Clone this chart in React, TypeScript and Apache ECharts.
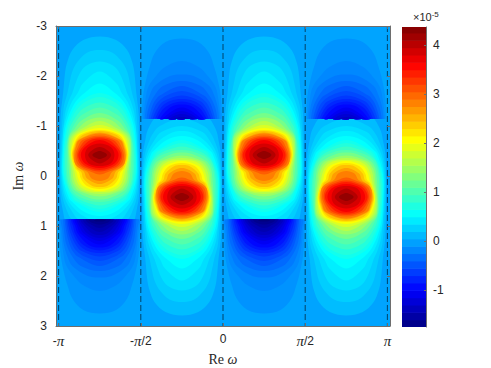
import React, { useEffect, useRef } from "react";
import * as echarts from "echarts";

const PI = Math.PI;
const X_TICK_VALUES = [-PI, -PI / 2, 0, PI / 2, PI];
const X_TICK_LABELS = ["-{p|π}", "-{p|π}/2", "0", "{p|π}/2", "{p|π}"];
const Y_TICK_VALUES = [-3, -2, -1, 0, 1, 2, 3];
const CB_TICK_VALUES = [-1, 0, 1, 2, 3, 4];
const CB_LEVELS = [-1.75, -1.6, -1.45, -1.3, -1.15, -1, -0.85, -0.7, -0.55, -0.4, -0.25, -0.1, 0.05, 0.2, 0.35, 0.5, 0.65, 0.8, 0.95, 1.1, 1.25, 1.4, 1.55, 1.7, 1.85, 2, 2.15, 2.3, 2.45, 2.6, 2.75, 2.9, 3.05, 3.2, 3.35, 3.5, 3.65, 3.8, 3.95, 4.1, 4.25, 4.37];
const V_MIN = -1.75;
const V_MAX = 4.37;

// Contours of the field in one period cell.
// Each outline: [fraction of half cell width, Im w], top to bottom of the right half.
const POS_LEVELS = [0.1, 0.2, 0.3, 0.4, 0.5, 0.6, 0.7, 0.85, 1, 1.2, 1.4, 1.6, 1.8, 2, 2.2, 2.4, 2.6, 2.8, 3, 3.2, 3.4, 3.6, 3.8, 4, 4.2];
const POS_OUTLINES = [
  [[0, -2.79], [0.4, -2.72], [0.667, -2.52], [0.786, -2.29], [0.84, -2.09], [0.89, -1.66], [0.95, -1.22], [0.97, -0.42], [0.97, 0.05], [0.95, 0.44], [0.89, 0.72], [0.85, 0.88], [0.785, 1], [0.667, 1.15], [0.37, 1.3], [0, 1.38]],
  [[0, -2.52], [0.3, -2.47], [0.535, -2.29], [0.667, -2.09], [0.738, -1.85], [0.786, -1.66], [0.88, -1.35], [0.955, -0.42], [0.955, 0.05], [0.9, 0.44], [0.786, 0.72], [0.68, 0.88], [0.535, 1], [0, 1.15]],
  [[0, -2.29], [0.3, -2.22], [0.46, -2.09], [0.59, -1.85], [0.667, -1.66], [0.755, -1.5], [0.85, -1.22], [0.93, -0.42], [0.93, 0.05], [0.85, 0.44], [0.667, 0.72], [0.5, 0.88], [0, 1]],
  [[0, -2.09], [0.41, -1.85], [0.535, -1.66], [0.667, -1.5], [0.75, -1.35], [0.8, -1.22], [0.88, -0.94], [0.91, -0.42], [0.91, 0.05], [0.8, 0.44], [0.535, 0.72], [0.2, 0.88], [0, 0.9]],
  [[0, -1.85], [0.37, -1.66], [0.57, -1.5], [0.68, -1.35], [0.75, -1.22], [0.845, -0.94], [0.9, -0.42], [0.89, 0.05], [0.75, 0.44], [0.667, 0.52], [0.37, 0.72], [0, 0.8]],
  [[0, -1.66], [0.46, -1.5], [0.615, -1.35], [0.695, -1.22], [0.815, -0.94], [0.88, -0.42], [0.87, 0.05], [0.695, 0.44], [0.59, 0.52], [0, 0.72]],
  [[0, -1.58], [0.32, -1.5], [0.535, -1.35], [0.64, -1.22], [0.785, -0.94], [0.87, -0.42], [0.845, 0.05], [0.64, 0.44], [0.506, 0.52], [0, 0.66]],
  [[0, -1.47], [0.4, -1.35], [0.55, -1.22], [0.645, -1.1], [0.74, -0.94], [0.84, -0.42], [0.81, 0.05], [0.72, 0.3], [0.55, 0.44], [0.353, 0.52], [0, 0.59]],
  [[0, -1.37], [0.44, -1.22], [0.57, -1.1], [0.68, -0.94], [0.78, -0.72], [0.8, -0.42], [0.78, 0.05], [0.667, 0.3], [0.44, 0.44], [0, 0.52]],
  [[0, -1.26], [0.46, -1.1], [0.615, -0.94], [0.72, -0.84], [0.76, -0.72], [0.77, -0.42], [0.73, 0.05], [0.68, 0.2], [0.59, 0.3], [0.25, 0.44], [0, 0.47]],
  [[0, -1.17], [0.32, -1.1], [0.535, -0.94], [0.675, -0.84], [0.745, -0.72], [0.75, -0.42], [0.7, -0.08], [0.69, 0.05], [0.62, 0.2], [0.506, 0.3], [0, 0.41]],
  [[0, -1.1], [0.45, -0.94], [0.62, -0.84], [0.71, -0.72], [0.73, -0.42], [0.66, -0.08], [0.64, 0.05], [0.56, 0.2], [0.41, 0.3], [0, 0.36]],
  [[0, -1.02], [0.34, -0.94], [0.565, -0.84], [0.667, -0.72], [0.7, -0.42], [0.615, -0.08], [0.58, 0.05], [0.49, 0.2], [0.287, 0.3], [0, 0.32]],
  [[0, -0.96], [0.506, -0.84], [0.62, -0.72], [0.695, -0.42], [0.565, -0.08], [0.525, 0.05], [0.41, 0.2], [0, 0.3]],
  [[0, -0.92], [0.44, -0.84], [0.58, -0.72], [0.68, -0.42], [0.6, -0.16], [0.506, -0.08], [0.46, 0.05], [0.31, 0.2], [0, 0.26]],
  [[0, -0.9], [0.36, -0.84], [0.55, -0.72], [0.62, -0.58], [0.66, -0.42], [0.56, -0.16], [0.45, -0.08], [0.4, 0.05], [0.18, 0.2], [0, 0.22]],
  [[0, -0.87], [0.52, -0.72], [0.6, -0.58], [0.64, -0.42], [0.6, -0.25], [0.5, -0.16], [0.38, -0.08], [0.31, 0.05], [0, 0.16]],
  [[0, -0.85], [0.5, -0.72], [0.58, -0.58], [0.62, -0.42], [0.6, -0.25], [0.5, -0.16], [0.3, -0.08], [0.2, 0.05], [0, 0.1]],
  [[0, -0.81], [0.42, -0.72], [0.53, -0.58], [0.59, -0.42], [0.55, -0.25], [0.42, -0.16], [0.2, -0.08], [0, -0.03]],
  [[0, -0.78], [0.33, -0.72], [0.48, -0.58], [0.55, -0.42], [0.49, -0.25], [0.34, -0.16], [0, -0.09]],
  [[0, -0.75], [0.22, -0.72], [0.42, -0.58], [0.52, -0.42], [0.43, -0.25], [0.24, -0.16], [0, -0.12]],
  [[0, -0.72], [0.36, -0.58], [0.46, -0.42], [0.36, -0.25], [0, -0.16]],
  [[0, -0.65], [0.27, -0.58], [0.36, -0.42], [0.27, -0.25], [0, -0.2]],
  [[0, -0.58], [0.28, -0.42], [0, -0.25]],
  [[0, -0.5], [0.18, -0.42], [0, -0.34]],
];
const NEG_LEVELS = [-0.05, -0.12, -0.2, -0.3, -0.4, -0.5, -0.6, -0.7, -0.8, -0.9, -1, -1.1, -1.2, -1.3, -1.4, -1.5, -1.6, -1.7];
const NEG_OUTLINES = [
  [[0, 0.5], [0.98, 0.6], [0.975, 1.15], [0.945, 1.61], [0.85, 2], [0.786, 2.18], [0.667, 2.45], [0.4, 2.68], [0, 2.75]],
  [[0, 0.5], [0.95, 0.6], [0.94, 1.15], [0.872, 1.61], [0.806, 1.8], [0.63, 2], [0.41, 2.18], [0, 2.3]],
  [[0, 0.5], [0.92, 0.6], [0.904, 1.15], [0.87, 1.38], [0.786, 1.61], [0.667, 1.8], [0.287, 2], [0, 2.03]],
  [[0, 0.5], [0.9, 0.6], [0.89, 0.88], [0.86, 1.15], [0.806, 1.38], [0.667, 1.61], [0.46, 1.8], [0, 1.9]],
  [[0, 0.5], [0.86, 0.6], [0.85, 0.88], [0.806, 1.15], [0.73, 1.38], [0.66, 1.5], [0.535, 1.61], [0, 1.8]],
  [[0, 0.5], [0.82, 0.6], [0.815, 0.88], [0.76, 1.15], [0.66, 1.38], [0.56, 1.5], [0.37, 1.61], [0, 1.7]],
  [[0, 0.5], [0.78, 0.6], [0.78, 0.88], [0.71, 1.15], [0.58, 1.38], [0.44, 1.5], [0, 1.61]],
  [[0, 0.5], [0.74, 0.6], [0.74, 0.88], [0.65, 1.15], [0.5, 1.38], [0.287, 1.5], [0, 1.54]],
  [[0, 0.5], [0.7, 0.6], [0.7, 0.88], [0.65, 1], [0.6, 1.15], [0.4, 1.38], [0, 1.49]],
  [[0, 0.5], [0.66, 0.6], [0.66, 0.88], [0.6, 1], [0.535, 1.15], [0.27, 1.38], [0, 1.43]],
  [[0, 0.5], [0.62, 0.6], [0.615, 0.88], [0.55, 1], [0.47, 1.15], [0, 1.37]],
  [[0, 0.5], [0.57, 0.6], [0.565, 0.88], [0.5, 1], [0.39, 1.15], [0, 1.3]],
  [[0, 0.5], [0.52, 0.6], [0.515, 0.88], [0.44, 1], [0.3, 1.15], [0, 1.24]],
  [[0, 0.5], [0.47, 0.6], [0.47, 0.88], [0.365, 1], [0.18, 1.15], [0, 1.18]],
  [[0, 0.5], [0.41, 0.6], [0.41, 0.88], [0.287, 1], [0, 1.12]],
  [[0, 0.5], [0.34, 0.6], [0.34, 0.88], [0.15, 1], [0, 1.04]],
  [[0, 0.5], [0.27, 0.6], [0.27, 0.88], [0, 0.97]],
  [[0, 0.5], [0.15, 0.6], [0.15, 0.88], [0, 0.91]],
];
// Jagged jump line of each cell type: Im w at evenly spread places across the cell.
const CUT_A = [0.875, 0.87, 0.865, 0.87, 0.86, 0.87, 0.865, 0.875, 0.86, 0.87, 0.865, 0.875, 0.87, 0.86, 0.87, 0.865, 0.875];
const CUT_B = [-1.14, -1.145, -1.14, -1.15, -1.135, -1.145, -1.13, -1.14, -1.13, -1.145, -1.135, -1.14, -1.13, -1.145, -1.14, -1.14, -1.145];
const CELL_CENTRES = [-(3 * PI) / 4, -PI / 4, PI / 4, (3 * PI) / 4];
const CELL_IS_FLIPPED = [false, true, false, true];
const DASH_X = [-PI, -PI / 2, 0, PI / 2, PI];

const clamp = (v: number) => Math.max(0, Math.min(1, v));
const jet = (v: number) => {
  const t = clamp((v - V_MIN) / (V_MAX - V_MIN));
  const c = (x: number) => Math.round(255 * clamp(x));
  return `rgb(${c(Math.min(4 * t - 1.5, -4 * t + 4.5))},${c(Math.min(4 * t - 0.5, -4 * t + 3.5))},${c(Math.min(4 * t + 0.5, -4 * t + 2.5))})`;
};

type Item = { cell: number; positive: boolean; level: number; outline: number[][] };
const ITEMS: Item[] = [];
CELL_CENTRES.forEach((_, cell) => {
  POS_LEVELS.forEach((level, i) => ITEMS.push({ cell, positive: true, level, outline: POS_OUTLINES[i] }));
  NEG_LEVELS.forEach((level, i) => ITEMS.push({ cell, positive: false, level, outline: NEG_OUTLINES[i] }));
});

const X_EDGE = PI + 0.05;
const TEXT = "#262626";
const AXIS = "#6e6e6e";
const SANS = "Liberation Sans";
const SERIF = "Liberation Serif";

export default function App() {
  const ref = useRef<HTMLDivElement>(null);
  useEffect(() => {
    const chart = echarts.init(ref.current!, undefined, { renderer: "svg" });
    const halfCell = PI / 4;
    const renderField = (params: any, api: any) => {
      const it = ITEMS[params.dataIndex];
      const centre = CELL_CENTRES[it.cell];
      const flipped = CELL_IS_FLIPPED[it.cell];
      const flip = flipped ? -1 : 1;
      const right = it.outline.map(([f, y]) => api.coord([centre + f * halfCell, flip * y]));
      const left = it.outline
        .slice(1, -1)
        .reverse()
        .map(([f, y]) => api.coord([centre - f * halfCell, flip * y]));
      const cut = flipped ? CUT_B : CUT_A;
      const keepAbove = it.positive === !flipped;
      const farY = keepAbove ? -3.5 : 3.5;
      // The lobe side runs a little past the jump line; the tail side is painted over it.
      const overlap = it.positive ? (keepAbove ? 0.03 : -0.03) : 0;
      const cutPts = cut.map((y, i) => api.coord([centre - halfCell + (2 * halfCell * i) / (cut.length - 1), y + overlap]));
      const clip = [
        api.coord([centre - halfCell, farY]),
        api.coord([centre + halfCell, farY]),
        ...cutPts.slice().reverse(),
      ];
      return {
        type: "polygon",
        silent: true,
        shape: { points: [...right, ...left], smooth: 0.35 },
        style: { fill: jet(it.level + (it.positive ? 0.05 : -0.05)) },
        clipPath: { type: "polygon", shape: { points: clip } },
      };
    };
    const tickStyle = { show: true, inside: true, length: 3, lineStyle: { color: AXIS, width: 1 } };
    chart.setOption({
      animation: false,
      backgroundColor: "#ffffff",
      grid: [
        { left: 56, right: 101, top: 26, bottom: 42, show: true, backgroundColor: jet(0), borderWidth: 0, outerBoundsMode: "none" },
        { left: 402, width: 24, top: 27, height: 300, show: false, outerBoundsMode: "none" },
      ],
      xAxis: [
        {
          type: "value", gridIndex: 0, min: -X_EDGE, max: X_EDGE, z: 5, position: "bottom",
          splitLine: { show: false },
          axisLine: { show: true, onZero: false, lineStyle: { color: AXIS, width: 1 } },
          axisTick: { ...tickStyle, customValues: X_TICK_VALUES },
          axisLabel: {
            customValues: X_TICK_VALUES, margin: 7, fontFamily: SANS, fontSize: 12, color: TEXT,
            formatter: (v: number) => X_TICK_LABELS[X_TICK_VALUES.findIndex((t) => Math.abs(t - v) < 1e-6)] ?? "",
            rich: { p: { fontFamily: SERIF, fontStyle: "italic", fontSize: 15, color: TEXT } },
          },
          name: "Re {w|ω}", nameLocation: "middle", nameGap: 24,
          nameTextStyle: { fontFamily: SERIF, fontSize: 14, color: TEXT, rich: { w: { fontFamily: SERIF, fontStyle: "italic", fontSize: 14, color: TEXT } } },
        },
        {
          type: "value", gridIndex: 0, min: -X_EDGE, max: X_EDGE, z: 5, position: "top",
          splitLine: { show: false },
          axisLine: { show: true, onZero: false, lineStyle: { color: AXIS, width: 1 } },
          axisTick: { ...tickStyle, customValues: X_TICK_VALUES },
          axisLabel: { show: false },
        },
        { type: "value", gridIndex: 1, min: 0, max: 1, show: false },
      ],
      yAxis: [
        {
          type: "value", gridIndex: 0, min: -3, max: 3, interval: 1, inverse: true, z: 5, position: "left",
          splitLine: { show: false },
          axisLine: { show: true, onZero: false, lineStyle: { color: AXIS, width: 1 } },
          axisTick: tickStyle,
          axisLabel: { margin: 9, fontFamily: SANS, fontSize: 12, color: TEXT, customValues: Y_TICK_VALUES },
          name: "Im {w|ω}", nameLocation: "middle", nameGap: 29, nameRotate: 90,
          nameTextStyle: { fontFamily: SERIF, fontSize: 14, color: TEXT, rich: { w: { fontFamily: SERIF, fontStyle: "italic", fontSize: 14, color: TEXT } } },
        },
        {
          type: "value", gridIndex: 0, min: -3, max: 3, interval: 1, inverse: true, z: 5, position: "right",
          splitLine: { show: false },
          axisLine: { show: true, onZero: false, lineStyle: { color: AXIS, width: 1 } },
          axisTick: tickStyle,
          axisLabel: { show: false },
        },
        {
          type: "value", gridIndex: 1, min: V_MIN, max: V_MAX, z: 5, position: "right",
          splitLine: { show: false },
          axisLine: { show: true, onZero: false, lineStyle: { color: AXIS, width: 1 } },
          axisTick: { show: true, inside: true, length: 2, lineStyle: { color: AXIS }, customValues: CB_TICK_VALUES },
          axisLabel: { customValues: CB_TICK_VALUES, margin: 7, fontFamily: SANS, fontSize: 12, color: TEXT },
        },
      ],
      series: [
        {
          type: "custom", xAxisIndex: 0, yAxisIndex: 0, clip: true, silent: true,
          data: ITEMS.map((it) => [CELL_CENTRES[it.cell], it.level]),
          encode: { x: 0, y: 1 },
          renderItem: renderField,
        },
        {
          type: "custom", xAxisIndex: 0, yAxisIndex: 0, clip: false, silent: true, z: 3,
          data: DASH_X.map((x) => [x]),
          encode: { x: 0 },
          renderItem: (_: any, api: any) => {
            const a = api.coord([api.value(0), -3]);
            const b = api.coord([api.value(0), 3]);
            return {
              type: "line",
              shape: { x1: a[0], y1: a[1], x2: b[0], y2: b[1] },
              style: { stroke: "rgba(0,0,0,0.6)", lineWidth: 1, lineDash: [6, 3] },
            };
          },
        },
        {
          type: "custom", xAxisIndex: 2, yAxisIndex: 2, clip: true, silent: true,
          data: CB_LEVELS.slice(0, -1).map((lo, i) => [0.5, lo, CB_LEVELS[i + 1]]),
          encode: { x: 0, y: 1 },
          renderItem: (_: any, api: any) => {
            const lo = api.value(1);
            const hi = api.value(2);
            const a = api.coord([0, hi]);
            const b = api.coord([1, lo]);
            return {
              type: "rect",
              shape: { x: a[0], y: a[1], width: b[0] - a[0], height: b[1] - a[1] + 0.6 },
              style: { fill: jet((lo + hi) / 2) },
            };
          },
        },
      ],
      graphic: [
        {
          type: "text", x: 413, y: 10, silent: true,
          style: {
            text: "×10{s|-5}", fontFamily: SANS, fontSize: 11, fill: TEXT,
            rich: { s: { fontFamily: SANS, fontSize: 8, fill: TEXT, verticalAlign: "top", padding: [0, 0, 5, 0] } },
          },
        },
      ],
    });
    return () => chart.dispose();
  }, []);
  return <div ref={ref} style={{ position: "fixed", left: 0, top: 0, width: 491, height: 368 }} />;
}
